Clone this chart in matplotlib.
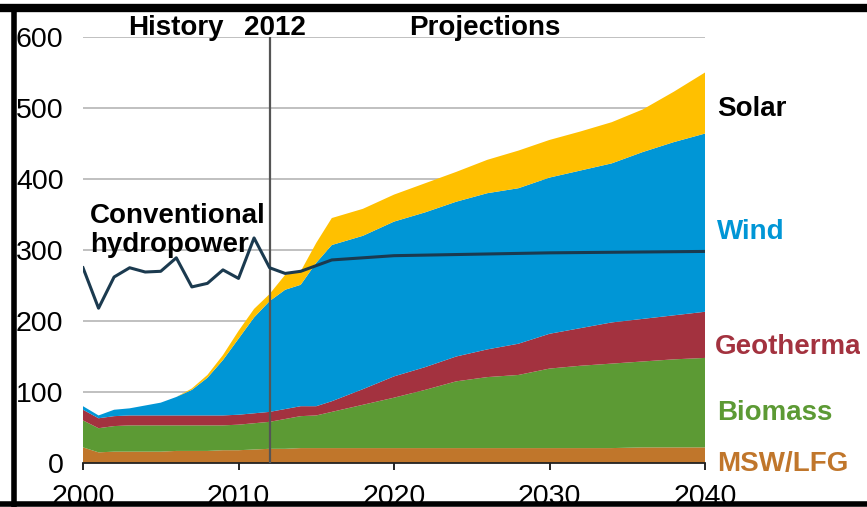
import numpy as np
import matplotlib.pyplot as plt
from matplotlib.lines import Line2D
from matplotlib.transforms import Bbox

plt.rcParams['font.family'] = ['Liberation Sans', 'DejaVu Sans']

years = [2000, 2001, 2002, 2003, 2004, 2005, 2006, 2007, 2008, 2009, 2010,
         2011, 2012, 2013, 2014, 2015, 2016, 2018, 2020, 2022, 2024, 2026,
         2028, 2030, 2032, 2034, 2036, 2038, 2040]

# cumulative tops
msw_top = [22, 15, 16, 16, 16, 16, 17, 17, 17, 18, 18,
           19, 20, 20, 21, 21, 21, 21, 21, 21, 21, 21,
           21, 21, 21, 21, 22, 22, 22]
biomass_top = [60, 49, 52, 53, 53, 53, 53, 53, 53, 53, 54,
               56, 58, 62, 66, 67, 72, 82, 92, 103, 115, 121,
               124, 133, 137, 140, 143, 146, 148]
geo_top = [75, 63, 66, 67, 67, 67, 67, 67, 67, 67, 68,
           70, 72, 76, 80, 80, 87, 104, 122, 135, 150, 160,
           168, 182, 190, 198, 203, 208, 213]
wind_top = [80, 67, 75, 77, 81, 85, 93, 103, 120, 145, 175,
            205, 228, 244, 251, 282, 307, 320, 340, 353, 368, 380,
            387, 402, 412, 422, 438, 452, 464]
solar_top = [80, 67, 75, 77, 81, 85, 93, 105, 124, 152, 186,
             217, 238, 265, 270, 310, 345, 358, 378, 394, 410, 427,
             440, 455, 467, 480, 498, 523, 550]

hydro_years = [2000, 2001, 2002, 2003, 2004, 2005, 2006, 2007, 2008, 2009,
               2010, 2011, 2012, 2013, 2014, 2015, 2016, 2020, 2030, 2040]
hydro = [275, 218, 262, 275, 269, 270, 289, 248, 253, 272,
         260, 317, 275, 267, 270, 278, 286, 292, 296, 298]

msw = np.array(msw_top)
biomass = np.array(biomass_top) - np.array(msw_top)
geo = np.array(geo_top) - np.array(biomass_top)
wind = np.array(wind_top) - np.array(geo_top)
solar = np.array(solar_top) - np.array(wind_top)

c_msw = '#C0762B'
c_bio = '#5C9A34'
c_geo = '#A3323F'
c_wind = '#0096D6'
c_solar = '#FFC000'

fig = plt.figure(figsize=(8.67, 5.07), dpi=100)
ax = fig.add_axes([83 / 867, 44 / 507, 622 / 867, 426 / 507])

ax.stackplot(years, msw, biomass, geo, wind, solar,
             colors=[c_msw, c_bio, c_geo, c_wind, c_solar], zorder=2)
ax.plot(hydro_years, hydro, color='#1B3A4F', lw=2.2, zorder=4)
ax.axvline(2012, color='#555555', lw=1.6, zorder=3)

ax.set_xlim(2000, 2040)
ax.set_ylim(0, 600)
ax.set_xticks([2000, 2010, 2020, 2030, 2040])
ax.set_yticks(range(0, 601, 100))
ax.yaxis.grid(True, color='#bbbbbb', lw=1.3, zorder=0)
ax.set_axisbelow(True)
for s in ['top', 'right', 'left']:
    ax.spines[s].set_visible(False)
ax.spines['bottom'].set_color('#222222')
ax.spines['bottom'].set_linewidth(1.3)
ax.tick_params(axis='y', length=0, pad=14, labelsize=20.5)
ax.tick_params(axis='x', length=5, width=1.2, pad=10, labelsize=20.5)

bold = dict(fontsize=20, fontweight='bold', clip_on=False)
ax.text(2006.0, 603, 'History', ha='center', va='baseline', **bold)
ax.text(2012.35, 603, '2012', ha='center', va='baseline', **bold)
ax.text(2025.85, 603, 'Projections', ha='center', va='baseline', **bold)
ax.text(2000.45, 328, 'Conventional\nhydropower', ha='left', va='center',
        linespacing=1.15, **bold)

ax.text(2040.8, 499, 'Solar', ha='left', va='center', color='black', **bold)
ax.text(2040.8, 326, 'Wind', ha='left', va='center', color=c_wind, **bold)
geo_lbl = ax.text(2040.65, 163, 'Geothermal', ha='left', va='center',
                  color=c_geo, fontsize=20, fontweight='bold')
# the original picture is cropped just after "Geotherma"
geo_lbl.set_clip_box(Bbox([[0, 0], [860, 507]]))
geo_lbl.set_clip_on(True)
ax.text(2040.8, 71, 'Biomass', ha='left', va='center', color=c_bio, **bold)
ax.text(2040.8, -2, 'MSW/LFG', ha='left', va='center', color=c_msw, **bold)

# black frame around the picture
fig.add_artist(Line2D([0, 1], [1 - 8 / 507, 1 - 8 / 507], color='black', lw=6))
fig.add_artist(Line2D([14 / 867, 14 / 867], [0, 1 - 8 / 507], color='black', lw=4))
fig.add_artist(Line2D([0, 1], [3 / 507, 3 / 507], color='black', lw=4))

fig.savefig('out.png', dpi=100)
